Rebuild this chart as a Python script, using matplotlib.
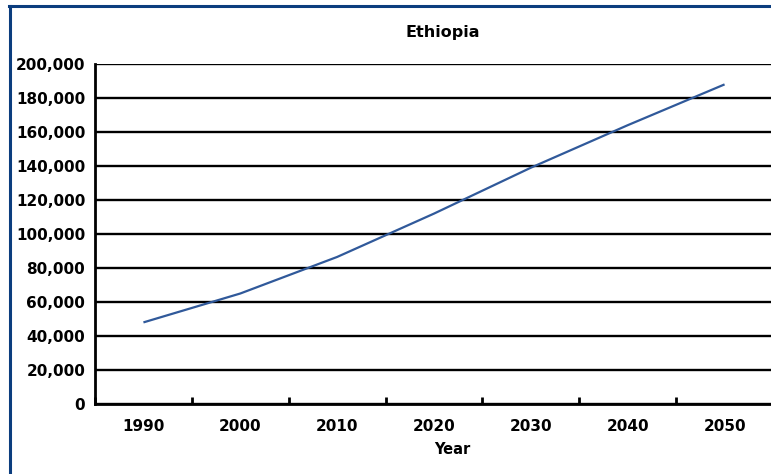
import numpy as np
import matplotlib.pyplot as plt
from matplotlib.lines import Line2D

years = ['1990', '2000', '2010', '2020', '2030', '2040', '2050']
population = [48000, 65000, 86500, 112000, 139000, 164000, 188000]
yticks = list(range(0, 200001, 20000))

plt.rcParams['font.family'] = ['DejaVu Sans']

fig = plt.figure(figsize=(7.71, 4.74), dpi=100)
ax = fig.add_axes([95/771, 1 - 404/474, 678/771, 340/474])

x = np.arange(len(years))
ax.plot(x, population, color='#30599a', lw=1.6, solid_capstyle='butt', zorder=3)

ax.set_xlim(-0.5, len(years) - 0.5)
ax.set_ylim(0, 200000)
ax.set_yticks(yticks)
ax.set_yticklabels([f'{v:,}' for v in yticks], fontsize=11, fontweight='bold')
ax.tick_params(axis='y', length=0, pad=7)

# category boundaries get the tick marks, centres get the labels
ax.set_xticks(np.arange(-0.5, len(years), 1.0))
ax.set_xticklabels([])
ax.tick_params(axis='x', which='major', direction='in', length=5, width=2, color='black')
ax.set_xticks(x, minor=True)
ax.set_xticklabels(years, minor=True, fontsize=11, fontweight='bold')
ax.tick_params(axis='x', which='minor', length=0, pad=11)

ax.yaxis.grid(True, color='black', lw=1.7)
ax.set_axisbelow(True)
for s in ['top', 'right']:
    ax.spines[s].set_visible(False)
for s in ['left', 'bottom']:
    ax.spines[s].set_linewidth(2)
    ax.spines[s].set_color('black')

fig.text(443/771, 1 - 33/474, 'Ethiopia', ha='center', va='center', fontsize=11.5, fontweight='bold')
fig.text(452/771, 1 - 450/474, 'Year', ha='center', va='center', fontsize=10.5, fontweight='bold')

# blue frame (top and left edges)
fig.add_artist(Line2D([9/771, 1], [1 - 6/474, 1 - 6/474], transform=fig.transFigure, color='#0b3d7e', lw=2.2))
fig.add_artist(Line2D([9.5/771, 9.5/771], [0, 1 - 6/474], transform=fig.transFigure, color='#0b3d7e', lw=2.2))

fig.savefig('out.png', dpi=100)
